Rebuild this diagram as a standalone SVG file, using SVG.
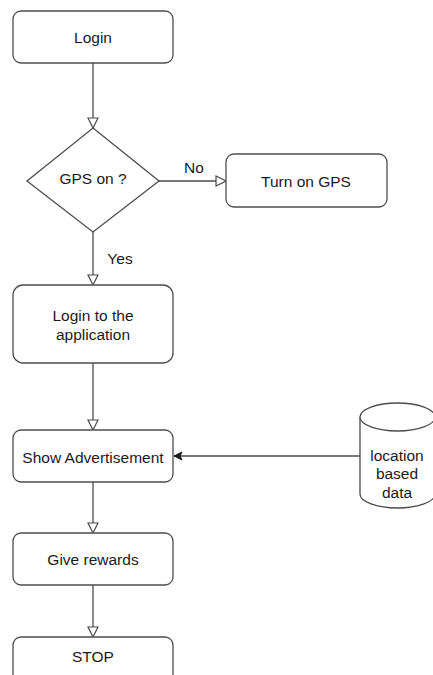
<svg xmlns="http://www.w3.org/2000/svg" width="433" height="675" viewBox="0 0 433 675">
  <style>
    .box { fill: #ffffff; stroke: #4d4d4d; stroke-width: 1.3; }
    .edge { fill: none; stroke: #4d4d4d; stroke-width: 1.3; }
    text { font-family: "Liberation Sans", Arial, sans-serif; font-size: 15.5px; fill: #1a1a1a; text-anchor: middle; dominant-baseline: central; }
  </style>
  <defs>
    <marker id="hollow" viewBox="0 0 12 12" refX="11" refY="6" markerWidth="12" markerHeight="12" markerUnits="userSpaceOnUse" orient="auto">
      <path d="M1,1 L11,6 L1,11 Z" fill="#ffffff" stroke="#4d4d4d" stroke-width="1.2"/>
    </marker>
    <marker id="solid" viewBox="0 0 10 10" refX="9" refY="5" markerWidth="10" markerHeight="10" markerUnits="userSpaceOnUse" orient="auto">
      <path d="M1,1 L9,5 L1,9 L3,5 Z" fill="#1a1a1a" stroke="#1a1a1a" stroke-width="1"/>
    </marker>
  </defs>

  <g id="connectors">
    <line class="edge" x1="93" y1="63" x2="93" y2="128" marker-end="url(#hollow)"/>
    <line class="edge" x1="159" y1="181" x2="226" y2="181" marker-end="url(#hollow)"/>
    <line class="edge" x1="93" y1="232" x2="93" y2="285" marker-end="url(#hollow)"/>
    <line class="edge" x1="93" y1="363" x2="93" y2="430" marker-end="url(#hollow)"/>
    <line class="edge" x1="360" y1="456" x2="174" y2="456" marker-end="url(#solid)"/>
    <line class="edge" x1="93" y1="482" x2="93" y2="533" marker-end="url(#hollow)"/>
    <line class="edge" x1="93" y1="585" x2="93" y2="637" marker-end="url(#hollow)"/>
    <text x="194" y="167">No</text>
    <text x="120" y="258">Yes</text>
  </g>

  <g id="login">
    <rect class="box" x="13" y="11" width="160" height="52" rx="8"/>
    <text x="93" y="37">Login</text>
  </g>

  <g id="gps-check">
    <path class="box" d="M93,128 L159,181 L93,232 L27,181 Z"/>
    <text x="93" y="178">GPS on ?</text>
  </g>

  <g id="turn-on-gps">
    <rect class="box" x="226" y="154" width="161" height="53" rx="8"/>
    <text x="306" y="181">Turn on GPS</text>
  </g>

  <g id="login-app">
    <rect class="box" x="13" y="285" width="160" height="78" rx="10"/>
    <text x="93" y="315">Login to the</text>
    <text x="93" y="334">application</text>
  </g>

  <g id="show-ad">
    <rect class="box" x="13" y="430" width="160" height="52" rx="8"/>
    <text x="93" y="457">Show Advertisement</text>
  </g>

  <g id="location-data">
    <path class="box" d="M360,417 L360,494 A37.5,14 0 0 0 435,494 L435,417"/>
    <ellipse class="box" cx="397.5" cy="417" rx="37.5" ry="14"/>
    <text x="397" y="455">location</text>
    <text x="397" y="473">based</text>
    <text x="397" y="492">data</text>
  </g>

  <g id="give-rewards">
    <rect class="box" x="13" y="533" width="160" height="52" rx="8"/>
    <text x="93" y="559">Give rewards</text>
  </g>

  <g id="stop">
    <rect class="box" x="13" y="637" width="160" height="52" rx="8"/>
    <text x="93" y="656">STOP</text>
  </g>
</svg>
